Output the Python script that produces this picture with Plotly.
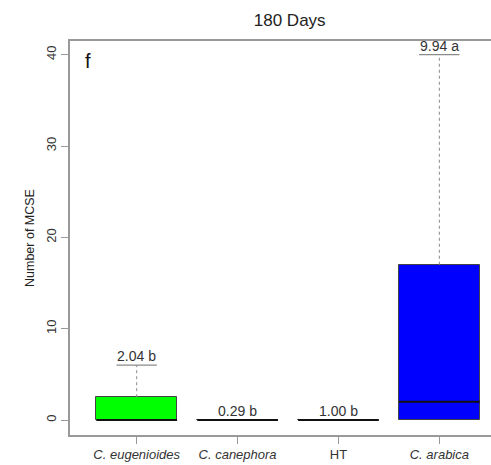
import plotly.graph_objects as go

categories = ["C. eugenioides", "C. canephora", "HT", "C. arabica"]
tick_labels = ["<i>C. eugenioides</i>", "<i>C. canephora</i>", "HT", "<i>C. arabica</i>"]
q1 = [0, 0, 0, 0]
median = [0, 0, 0, 2]
q3 = [2.5, 0, 0, 17]
lower_whisker = [0, 0, 0, 0]
upper_whisker = [6, 0, 0, 40]
mean_labels = ["2.04 b", "0.29 b", "1.00 b", "9.94 a"]
fill_colors = ["#00FF00", "#FF0000", "#FFA500", "#0000FF"]

box_w = 0.8
staple_w = 0.4
xs = list(range(len(categories)))

fig = go.Figure()

# whiskers (dotted)
for i in xs:
    fig.add_trace(go.Scatter(x=[i, i], y=[q3[i], upper_whisker[i]], mode="lines",
                             line=dict(color="#8a8a8a", width=1, dash="dot"),
                             showlegend=False, hoverinfo="skip"))
    fig.add_trace(go.Scatter(x=[i, i], y=[q1[i], lower_whisker[i]], mode="lines",
                             line=dict(color="#8a8a8a", width=1, dash="dot"),
                             showlegend=False, hoverinfo="skip"))
    # staples
    fig.add_trace(go.Scatter(x=[i - staple_w / 2, i + staple_w / 2], y=[upper_whisker[i]] * 2,
                             mode="lines", line=dict(color="#8a8a8a", width=1.2),
                             showlegend=False, hoverinfo="skip"))

# boxes
fig.add_trace(go.Bar(x=xs, y=[q3[i] - q1[i] for i in xs], base=q1, width=box_w,
                     marker=dict(color=fill_colors, line=dict(color="#444444", width=1)),
                     showlegend=False, hoverinfo="skip"))

# medians
for i in xs:
    fig.add_trace(go.Scatter(x=[i - box_w / 2, i + box_w / 2], y=[median[i]] * 2, mode="lines",
                             line=dict(color="#111111", width=2),
                             showlegend=False, hoverinfo="skip"))

# mean labels
for i in xs:
    fig.add_annotation(x=i, y=upper_whisker[i], text=mean_labels[i], showarrow=False,
                       yanchor="bottom", yshift=-1, font=dict(size=14, color="#333333"))

fig.add_annotation(x=0.043, y=0.949, xref="paper", yref="paper", text="f", showarrow=False,
                   xanchor="center", yanchor="middle", font=dict(size=20, color="#111111"))

fig.add_annotation(x=-0.095, y=0.5, xref="paper", yref="paper", text="Number of MCSE",
                   textangle=-90, showarrow=False, xanchor="center", yanchor="middle",
                   font=dict(size=12.5, color="#222222"))

fig.update_layout(
    width=491, height=465,
    margin=dict(l=70, r=0, t=41, b=30),
    paper_bgcolor="white", plot_bgcolor="white",
    font=dict(family="Liberation Sans, Arial, sans-serif", size=12, color="#222222"),
    title=dict(text="180 Days", x=0.59, xanchor="center", y=0.957, yanchor="middle",
               font=dict(size=17, color="#222222")),
    bargap=0,
    xaxis=dict(range=[-0.661, 3.512], tickvals=xs, ticktext=tick_labels,
               showgrid=False, zeroline=False, showline=True, linecolor="#999999", linewidth=1.5,
               mirror=True, ticks="outside", ticklen=7, tickcolor="#999999",
               tickfont=dict(size=13, color="#333333")),
    yaxis=dict(range=[-1.64, 41.5], tickvals=[0, 10, 20, 30, 40], tickangle=-90,
               showgrid=False, zeroline=False, showline=True, linecolor="#999999", linewidth=1.5,
               ticks="outside", ticklen=7, tickcolor="#999999",
               tickfont=dict(size=13, color="#333333")),
)

fig.write_html("out.html")
